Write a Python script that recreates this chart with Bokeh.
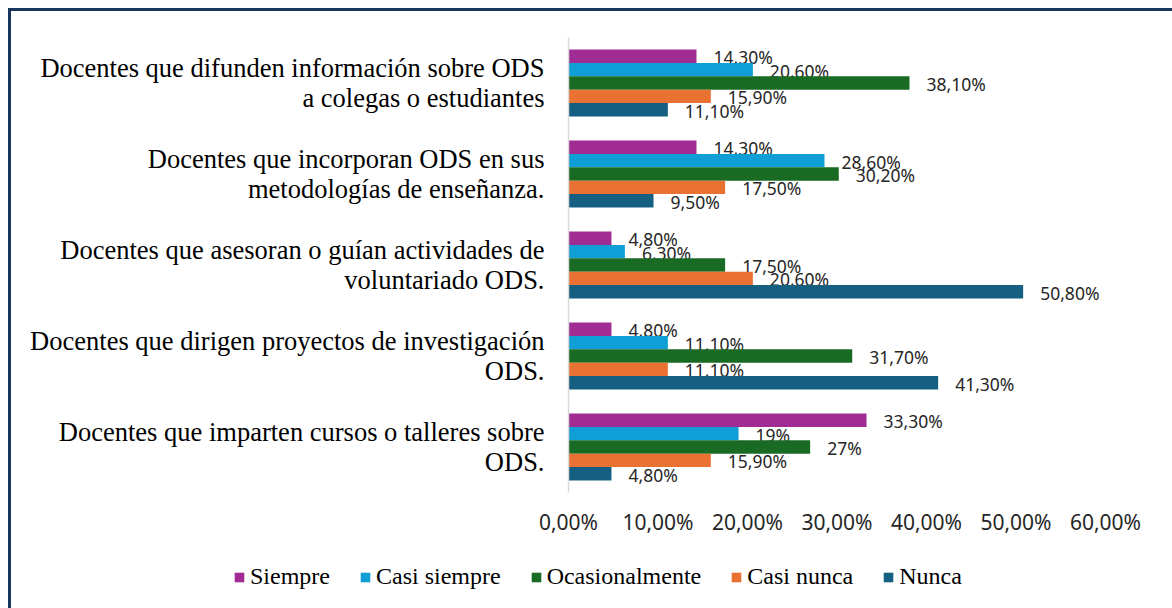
from bokeh.plotting import figure
from bokeh.layouts import column
from bokeh.models import ColumnDataSource, FactorRange, Range1d, FixedTicker, Legend, LegendItem
from bokeh.transform import dodge
from bokeh.core.properties import value
from bokeh.embed import file_html
from bokeh.resources import INLINE

categories = [
    "Docentes que difunden información sobre ODS\na colegas o estudiantes",
    "Docentes que incorporan ODS en sus\nmetodologías de enseñanza.",
    "Docentes que asesoran o guían actividades de\nvoluntariado ODS.",
    "Docentes que dirigen proyectos de investigación\nODS.",
    "Docentes que imparten cursos o talleres sobre\nODS.",
]
series = ["Siempre", "Casi siempre", "Ocasionalmente", "Casi nunca", "Nunca"]

siempre = [14.3, 14.3, 4.8, 4.8, 33.3]
casi_siempre = [20.6, 28.6, 6.3, 11.1, 19.0]
ocasionalmente = [38.1, 30.2, 17.5, 31.7, 27.0]
casi_nunca = [15.9, 17.5, 20.6, 11.1, 15.9]
nunca = [11.1, 9.5, 50.8, 41.3, 4.8]

siempre_labels = ["14,30%", "14,30%", "4,80%", "4,80%", "33,30%"]
casi_siempre_labels = ["20,60%", "28,60%", "6,30%", "11,10%", "19%"]
ocasionalmente_labels = ["38,10%", "30,20%", "17,50%", "31,70%", "27%"]
casi_nunca_labels = ["15,90%", "17,50%", "20,60%", "11,10%", "15,90%"]
nunca_labels = ["11,10%", "9,50%", "50,80%", "41,30%", "4,80%"]

x_ticks = [0, 10, 20, 30, 40, 50, 60]
x_tick_labels = ["0,00%", "10,00%", "20,00%", "30,00%", "40,00%", "50,00%", "60,00%"]

colors = ["#A02B93", "#0F9ED5", "#196B24", "#E97132", "#156082"]

# no-break spaces after the second line so that it sits centred under the first
second_line_pad = [20, 8, 21, 34, 32]

values_list = [siempre, casi_siempre, ocasionalmente, casi_nunca, nunca]
labels_list = [siempre_labels, casi_siempre_labels, ocasionalmente_labels, casi_nunca_labels, nunca_labels]

data = {"cat": categories}
for i in range(5):
    data[f"v{i}"] = values_list[i]
    data[f"l{i}"] = labels_list[i]
src = ColumnDataSource(data)

p = figure(
    y_range=FactorRange(factors=categories[::-1]),
    x_range=Range1d(0, 60),
    frame_width=537, frame_height=455,
    min_border_left=557, min_border_right=67, min_border_top=26, min_border_bottom=50,
    output_backend="svg", toolbar_location=None,
)
p.outline_line_color = None
p.xgrid.grid_line_color = None
p.ygrid.grid_line_color = None

h = 0.147
offsets = [2 * h, h, 0, -h, -2 * h]
for i in range(5):
    p.hbar(y=dodge("cat", offsets[i], range=p.y_range), left=0, right=f"v{i}", height=h,
           source=src, fill_color=colors[i], line_color=None)
    p.text(x=f"v{i}", y=dodge("cat", offsets[i], range=p.y_range), text=f"l{i}", source=src,
           x_offset=17, y_offset=1, text_baseline="middle", text_align="left",
           text_font=value("Noto Sans"), text_font_size="17.5px", text_color="#262626")

yax = p.yaxis[0]
yax.axis_line_color = "#D9D9D9"
yax.axis_line_width = 1.5
yax.major_tick_line_color = None
yax.minor_tick_line_color = None
yax.major_tick_out = 0
yax.major_tick_in = 0
yax.major_label_standoff = 24
yax.major_label_text_font = "Liberation Serif"
yax.major_label_text_font_size = "26.5px"
yax.major_label_text_color = "#000000"
yax.major_label_text_line_height = 1.0
yax.major_label_overrides = {c: c + "\u00a0" * n for c, n in zip(categories, second_line_pad)}

xax = p.xaxis[0]
xax.ticker = FixedTicker(ticks=x_ticks)
xax.major_label_overrides = {t: l for t, l in zip(x_ticks, x_tick_labels)}
xax.axis_line_color = None
xax.major_tick_line_color = None
xax.minor_tick_line_color = None
xax.major_label_standoff = 9
xax.major_label_text_font = "Noto Sans"
xax.major_label_text_font_size = "21px"
xax.major_label_text_color = "#262626"

# legend strip below the chart (zero-size proxy glyphs in the bar colours)
lf = figure(width=1161, height=66, x_range=Range1d(0, 1), y_range=Range1d(0, 1),
            min_border=0, x_axis_location=None, y_axis_location=None,
            output_backend="svg", toolbar_location=None)
lf.outline_line_color = None
lf.grid.visible = False
items = []
for i in range(5):
    r = lf.hbar(y=[0], left=[0], right=[0], height=0, fill_color=colors[i], line_color=None)
    items.append(LegendItem(label=series[i], renderers=[r]))

aligned_off = False
if "frame_align" in lf.properties():
    lf.frame_align = False
    p.frame_align = False
    aligned_off = True

legend = Legend(
    items=items, orientation="horizontal", location=(222, 18) if aligned_off else (-335, 18),
    label_text_font="Liberation Serif", label_text_font_size="24px", label_text_color="#000000",
    glyph_width=12, glyph_height=12, label_standoff=5, spacing=29,
    border_line_color=None, background_fill_alpha=0, padding=0, margin=0,
)
lf.add_layout(legend, "center")

layout = column(p, lf, spacing=0)
layout.margin = (8, 0, 0, 8)
layout.styles = {"border-left": "3px solid #17375E", "border-top": "3px solid #17375E"}

open("out.html", "w").write(file_html(layout, INLINE))
